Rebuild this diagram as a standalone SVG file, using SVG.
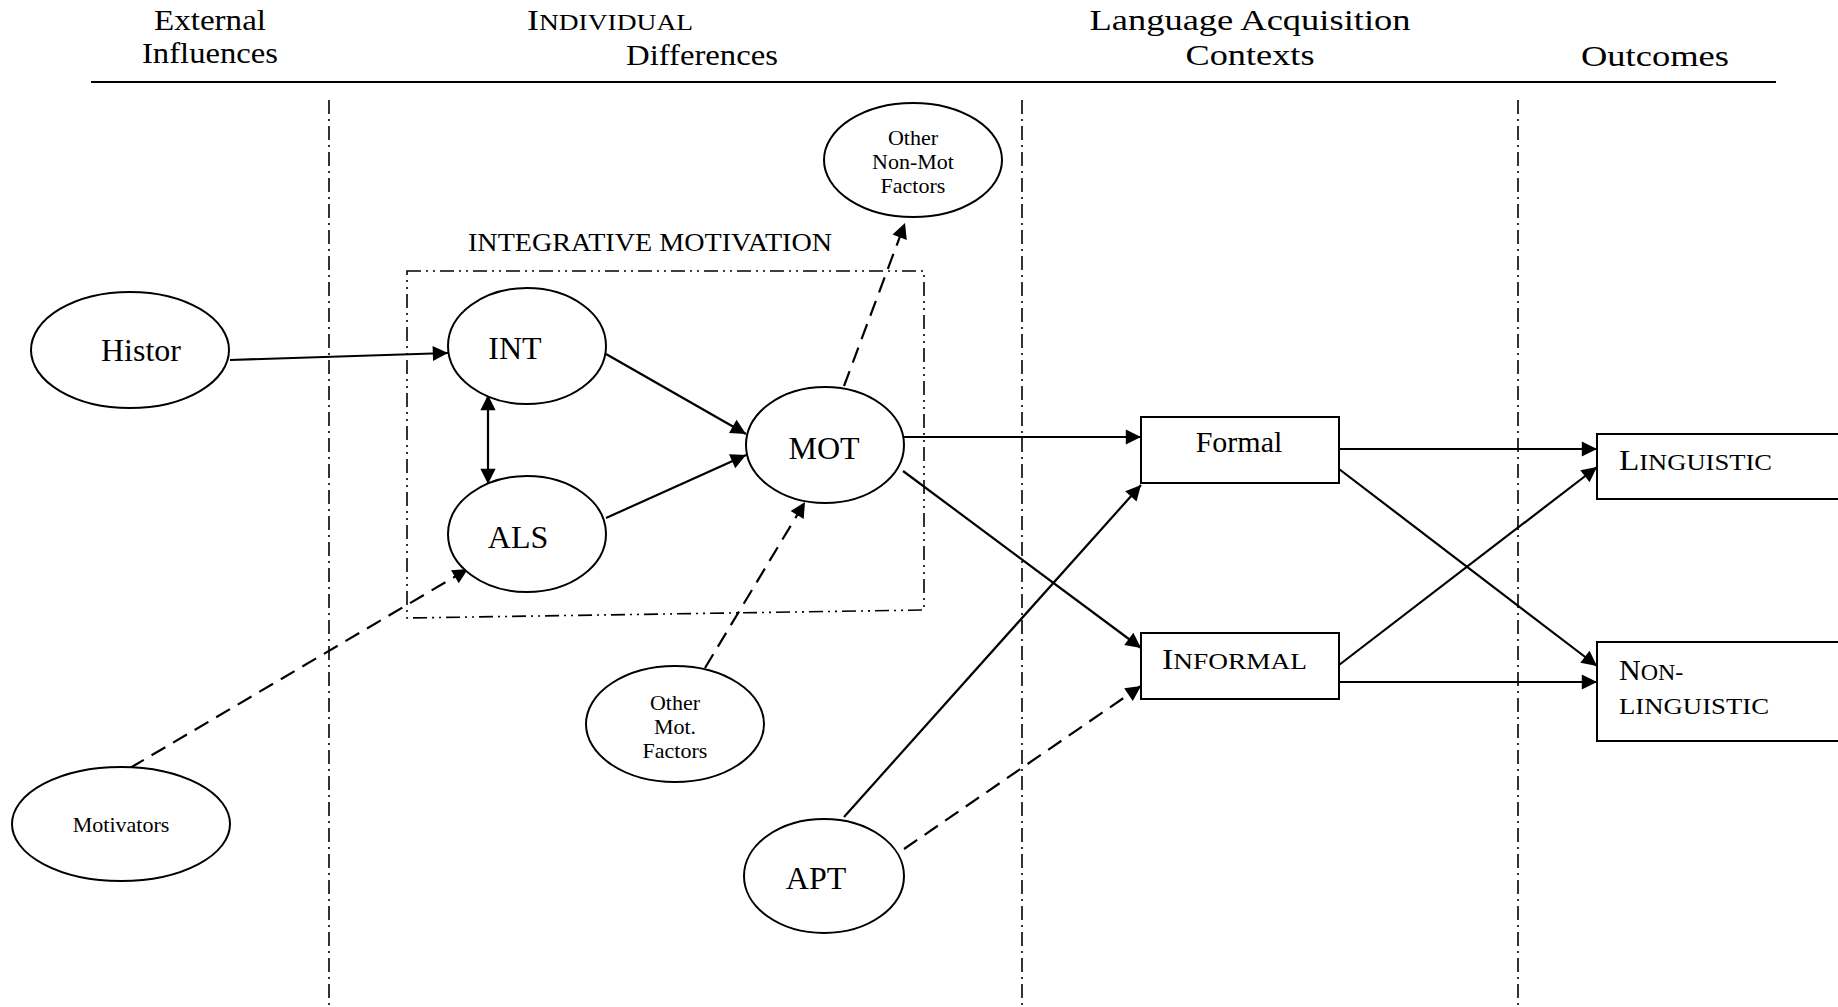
<svg xmlns="http://www.w3.org/2000/svg" width="1838" height="1007" viewBox="0 0 1838 1007">
<style>
text{font-family:"Liberation Serif","Times New Roman",serif;fill:#000}
.h{font-size:30px;text-anchor:middle}
.n{font-size:32px;text-anchor:middle}
.s{font-size:22px;text-anchor:middle}
.b{font-size:30px}
.sc{font-size:24px}
.node ellipse,.node rect{fill:#fff;stroke:#000;stroke-width:2}
.sep{stroke:#000;stroke-width:1.6;stroke-dasharray:14 5 2 5;fill:none}
.c{stroke:#000;stroke-width:2.2;fill:none}
.d{stroke-dasharray:16 9}
</style>
<defs>
<marker id="a" viewBox="0 0 10 10" refX="10" refY="5" markerWidth="8" markerHeight="8" markerUnits="userSpaceOnUse" orient="auto-start-reverse" style="overflow:visible">
<path d="M0,0 L10,5 L0,10 z" fill="#000" transform="scale(1.9)" transform-origin="10 5"/>
</marker>
</defs>
<rect width="1838" height="1007" fill="#fff"/>
<g id="headers">
<text class="h" x="210" y="30" textLength="112" lengthAdjust="spacingAndGlyphs">External</text>
<text class="h" x="210" y="63" textLength="136" lengthAdjust="spacingAndGlyphs">Influences</text>
<text class="h" x="610" y="30" textLength="166" lengthAdjust="spacingAndGlyphs"><tspan>I</tspan><tspan font-size="23">NDIVIDUAL</tspan></text>
<text class="h" x="702" y="65" textLength="152" lengthAdjust="spacingAndGlyphs">Differences</text>
<text class="h" x="1250" y="30" textLength="321" lengthAdjust="spacingAndGlyphs">Language Acquisition</text>
<text class="h" x="1250" y="65" textLength="129" lengthAdjust="spacingAndGlyphs">Contexts</text>
<text class="h" x="1655" y="66" textLength="148" lengthAdjust="spacingAndGlyphs">Outcomes</text>
<line x1="91" y1="82" x2="1776" y2="82" stroke="#000" stroke-width="2"/>
</g>
<g id="separators">
<line class="sep" x1="329" y1="100" x2="329" y2="1007"/>
<line class="sep" x1="1022" y1="100" x2="1022" y2="1007"/>
<line class="sep" x1="1518" y1="100" x2="1518" y2="1007"/>
</g>
<g id="integrative-motivation">
<polygon points="407,271 924,271 924,610 407,618" fill="none" stroke="#000" stroke-width="1.6" stroke-dasharray="14 5 2 5 2 5"/>
<text x="650" y="251" style="font-size:25px;text-anchor:middle" textLength="364" lengthAdjust="spacingAndGlyphs">INTEGRATIVE MOTIVATION</text>
</g>
<g id="connectors">
<line class="c" x1="230" y1="360" x2="448" y2="353" marker-end="url(#a)"/>
<line class="c" x1="488" y1="395" x2="488" y2="484" marker-start="url(#a)" marker-end="url(#a)"/>
<line class="c" x1="606" y1="354" x2="746" y2="434" marker-end="url(#a)"/>
<line class="c" x1="606" y1="518" x2="746" y2="455" marker-end="url(#a)"/>
<line class="c d" x1="844" y1="386" x2="905" y2="223" marker-end="url(#a)"/>
<line class="c d" x1="705" y1="668" x2="805" y2="502" marker-end="url(#a)"/>
<line class="c d" x1="130" y1="768" x2="468" y2="569" marker-end="url(#a)"/>
<line class="c" x1="904" y1="437" x2="1141" y2="437" marker-end="url(#a)"/>
<line class="c" x1="903" y1="471" x2="1141" y2="648" marker-end="url(#a)"/>
<line class="c" x1="844" y1="817" x2="1141" y2="485" marker-end="url(#a)"/>
<line class="c d" x1="904" y1="849" x2="1141" y2="686" marker-end="url(#a)"/>
<line class="c" x1="1339" y1="449" x2="1597" y2="449" marker-end="url(#a)"/>
<line class="c" x1="1339" y1="469" x2="1597" y2="666" marker-end="url(#a)"/>
<line class="c" x1="1339" y1="665" x2="1597" y2="467" marker-end="url(#a)"/>
<line class="c" x1="1339" y1="682" x2="1597" y2="682" marker-end="url(#a)"/>
</g>
<g id="histor" class="node"><ellipse cx="130" cy="350" rx="99" ry="58"/><text class="n" x="141" y="361">Histor</text></g>
<g id="int" class="node"><ellipse cx="527" cy="346" rx="79" ry="58"/><text class="n" x="515" y="359">INT</text></g>
<g id="als" class="node"><ellipse cx="527" cy="534" rx="79" ry="58"/><text class="n" x="518" y="548">ALS</text></g>
<g id="mot" class="node"><ellipse cx="825" cy="445" rx="79" ry="58"/><text class="n" x="824" y="459">MOT</text></g>
<g id="other-non-mot" class="node"><ellipse cx="913" cy="160" rx="89" ry="57"/><text class="s" x="913" y="145">Other</text><text class="s" x="913" y="169">Non-Mot</text><text class="s" x="913" y="193">Factors</text></g>
<g id="other-mot" class="node"><ellipse cx="675" cy="724" rx="89" ry="58"/><text class="s" x="675" y="710">Other</text><text class="s" x="675" y="734">Mot.</text><text class="s" x="675" y="758">Factors</text></g>
<g id="motivators" class="node"><ellipse cx="121" cy="824" rx="109" ry="57"/><text class="s" x="121" y="832">Motivators</text></g>
<g id="apt" class="node"><ellipse cx="824" cy="876" rx="80" ry="57"/><text class="n" x="816" y="889">APT</text></g>
<g id="formal" class="node"><rect x="1141" y="417" width="198" height="66"/><text class="b" x="1239" y="452" text-anchor="middle">Formal</text></g>
<g id="informal" class="node"><rect x="1141" y="633" width="198" height="66"/><text class="b" x="1162" y="669" textLength="145" lengthAdjust="spacingAndGlyphs">I<tspan class="sc">NFORMAL</tspan></text></g>
<g id="linguistic" class="node"><rect x="1597" y="434" width="260" height="65"/><text class="b" x="1619" y="470" textLength="153" lengthAdjust="spacingAndGlyphs">L<tspan class="sc">INGUISTIC</tspan></text></g>
<g id="non-linguistic" class="node"><rect x="1597" y="642" width="260" height="99"/><text class="b" x="1619" y="680">N<tspan class="sc">ON-</tspan></text><text class="sc" x="1619" y="714" textLength="150" lengthAdjust="spacingAndGlyphs">LINGUISTIC</text></g>
</svg>
